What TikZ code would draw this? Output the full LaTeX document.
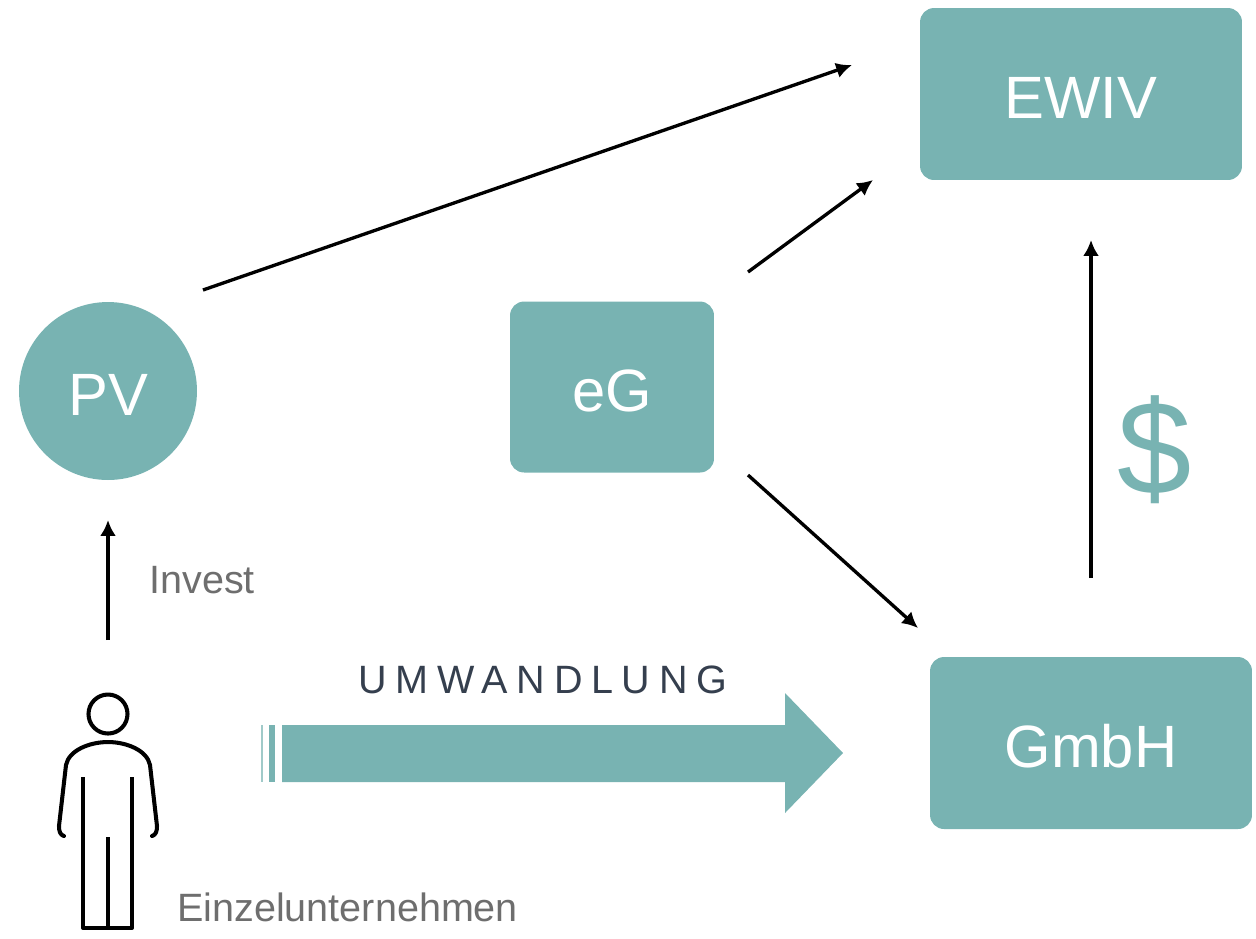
\documentclass[tikz,border=0pt]{standalone}
\usepackage{fontspec}
\setmainfont{Liberation Sans}
\usepackage{xcolor}
\usetikzlibrary{arrows.meta, positioning}
\definecolor{tealbox}{HTML}{78B3B2}
\definecolor{greytext}{HTML}{6E6E6E}
\definecolor{slatetext}{HTML}{353F4E}

\begin{document}
\begin{tikzpicture}[x=0.02cm, y=-0.02cm,
                    box/.style={rectangle, fill=tealbox, rounded corners=0.28cm, text=white, font=\fontsize{34}{40}\selectfont, text height=27.5pt, text depth=0pt, minimum width=6.44cm, minimum height=3.44cm, outer sep=0pt},
                    roundbox/.style={circle, fill=tealbox, text=white, font=\fontsize{34}{40}\selectfont, text height=27.5pt, text depth=0pt, minimum size=3.56cm, inner sep=0pt},
                    label text/.style={text=greytext, font=\fontsize{22.5}{26}\selectfont, inner sep=0pt, anchor=base west},
                    link/.style={-{Latex[length=9pt,width=9pt]}, line width=1.9pt},
                    person/.style={line width=2.3pt, line cap=round, line join=round}]
\useasboundingbox (0,0) rectangle (1256,938);

% Place the blocks
\node[box] (ewiv) at (1081,94) {EWIV};
\node[box, minimum width=4.08cm, minimum height=3.42cm] (eg) at (612,387) {eG};
\node[box] (gmbh) at (1091,743) {GmbH};
\node[roundbox] (pv) at (108,391) {PV};

% End points of the arrows
\coordinate (pv-out) at (203,290);
\coordinate (ewiv-in) at (852,65);
\coordinate (eg-up) at (748,272);
\coordinate (ewiv-sw) at (873,180);
\coordinate (eg-down) at (748,475);
\coordinate (gmbh-in) at (918,628);
\coordinate (gmbh-up) at (1091,578);
\coordinate (ewiv-below) at (1091,240);
\coordinate (person-top) at (108,640);
\coordinate (pv-below) at (108,520);

\draw[link] (pv-out) -- (ewiv-in);
\draw[link] (eg-up) -- (ewiv-sw);
\draw[link] (eg-down) -- (gmbh-in);
\draw[link] (gmbh-up) -- (ewiv-below);
\draw[link] (person-top) -- (pv-below);

% Labels
\node[label text] (invest) at (149,593) {Invest};
\node[label text] (einzel) at (177,921) {Einzelunternehmen};
\node[label text, text=slatetext, font=\fontsize{22.5}{26}\selectfont] (umw) at (358,693) {\addfontfeature{LetterSpace=22}UMWANDLUNG};
\node[text=tealbox, font=\fontsize{76}{84}\selectfont, inner sep=0pt, anchor=base] (dollar) at (1155,494) {\$};

% Big arrow
\fill[tealbox] (282,725) -- (785,725) -- (785,693) -- (843,753) -- (785,813) -- (785,782) -- (282,782) -- cycle;
\fill[tealbox!70] (261,725) rectangle (263,782);
\fill[tealbox] (269,725) rectangle (275,782);

% Person
\draw[person] (108,714) circle (19.5);
\draw[person] (64,836) .. controls (60,835) and (59,831) .. (59,826) -- (66,765)
  .. controls (69,750) and (90,742) .. (108,742) .. controls (126,742) and (147,750) .. (150,765)
  -- (157,826) .. controls (157,831) and (156,835) .. (152,836);
\draw[person, line cap=butt] (83,777) -- (83,928) -- (132,928) -- (132,777);
\draw[person, line cap=butt] (108,837) -- (108,928);

\end{tikzpicture}
\end{document}
